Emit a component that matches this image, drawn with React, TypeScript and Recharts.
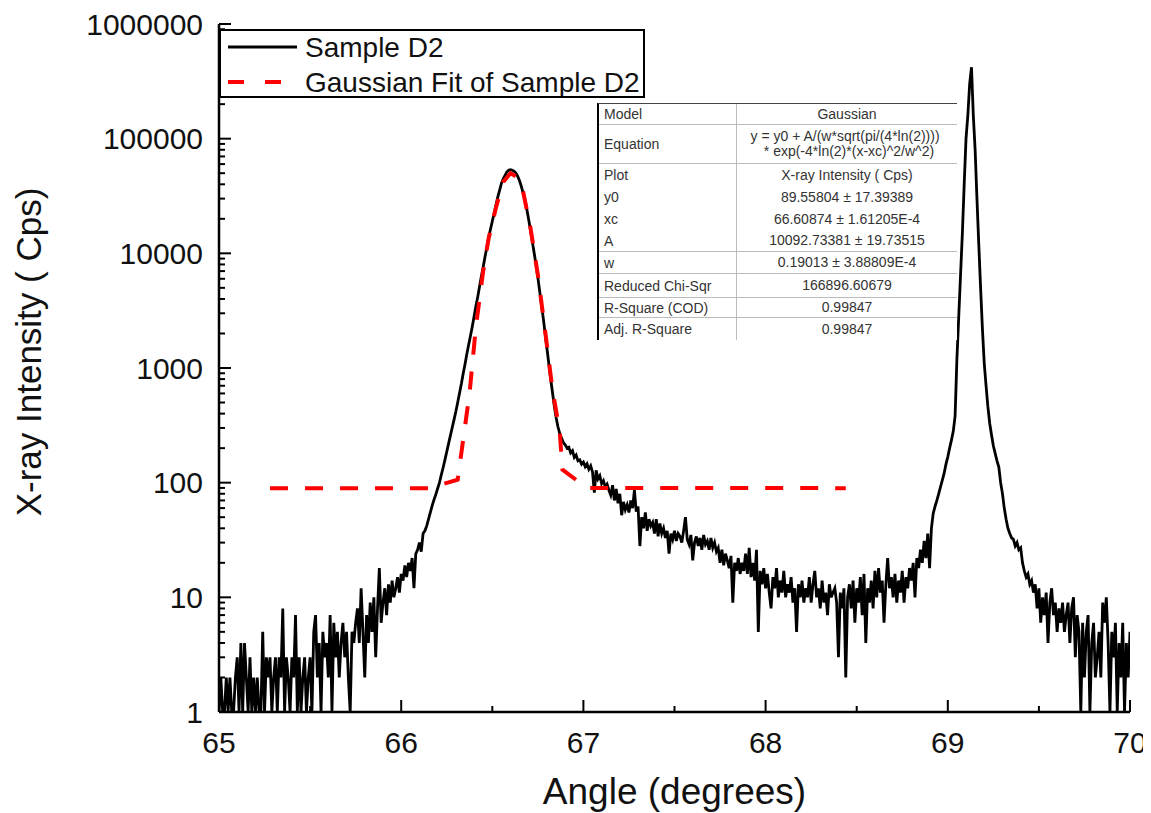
import React from "react";
import {
  LineChart,
  Line,
  XAxis,
  YAxis,
  Legend,
} from "recharts";

// measured sample: constant 0.01 deg step starting at 65 deg
const angleStart = 65;
const angleStep = 0.01;
const intensity = [
  1, 2, 1, 1, 2, 1, 2, 1, 1, 2,
  3, 1, 4, 1, 4, 2, 1, 3, 1, 2,
  1, 2, 1, 1, 5, 1, 3, 2, 3, 1,
  2, 3, 1, 3, 2, 8, 1, 3, 2, 1,
  3, 2, 7, 1, 3, 1, 2, 3, 1, 2,
  3, 1, 5, 7, 2, 4, 1, 5, 3, 4,
  2, 7, 1, 6, 3, 5, 2, 4, 6, 3,
  5, 2, 1, 5, 4, 6, 8, 4, 12, 5,
  2, 7, 4, 9, 5, 10, 3, 8, 18, 6,
  9, 12, 7, 13, 9, 14, 10, 12, 15, 11,
  16, 14, 19, 15, 20, 17, 22, 12, 24, 26,
  30, 25, 36, 38, 42, 48, 55, 63, 71, 79,
  89, 100, 117, 135, 158, 186, 219, 257, 302, 355,
  417, 501, 603, 724, 891, 1072, 1318, 1585, 1905, 2291,
  2818, 3467, 4169, 5129, 6310, 7586, 9333, 11220, 13800, 16220,
  19050, 22390, 26300, 30900, 35480, 40740, 44670, 47860, 51290, 53100,
  53700, 53100, 51900, 50100, 46800, 42660, 38020, 33110, 28840, 23990,
  19500, 15850, 12590, 10000, 7943, 6166, 4677, 3548, 2692, 1995,
  1479, 1096, 813, 617, 468, 372, 309, 269, 245, 224,
  214, 200, 204, 182, 190, 166, 174, 155, 158, 145,
  151, 138, 146, 131, 140, 124, 82, 128, 108, 115,
  98, 104, 92, 97, 86, 78, 95, 70, 88, 66,
  80, 52, 68, 58, 64, 55, 70, 60, 86, 56,
  62, 28, 50, 40, 55, 38, 48, 42, 45, 36,
  48, 34, 44, 36, 40, 33, 38, 24, 36, 32,
  38, 31, 36, 34, 30, 38, 50, 32, 29, 35,
  21, 30, 34, 28, 33, 26, 35, 29, 31, 26,
  33, 27, 30, 25, 27, 20, 26, 19, 24, 21,
  18, 23, 9, 20, 17, 22, 16, 20, 17, 24,
  16, 27, 15, 20, 14, 26, 5, 17, 13, 18,
  12, 16, 11, 8, 15, 12, 18, 10, 14, 11,
  17, 10, 13, 11, 15, 9, 12, 5, 13, 10,
  14, 9, 12, 10, 15, 9, 13, 17, 10, 12,
  8, 14, 9, 11, 7, 13, 10, 11, 12, 9,
  3, 11, 8, 12, 2, 10, 13, 8, 14, 6,
  12, 9, 15, 7, 16, 4, 12, 9, 14, 8,
  17, 10, 18, 11, 14, 6, 13, 22, 12, 15,
  10, 16, 9, 14, 11, 17, 9, 15, 12, 18,
  14, 20, 10, 22, 18, 26, 20, 31, 22, 36,
  18, 40, 54, 62, 70, 80, 92, 105, 121, 145,
  168, 200, 235, 280, 380, 1200, 2800, 6500, 15000, 40000,
  100000, 160000, 300000, 420000, 160000, 80000, 30000, 12000, 5000, 2200,
  1100, 700, 460, 330, 260, 210, 180, 155, 137, 100,
  80, 60, 48, 40, 36, 33, 32, 28, 30, 26,
  27, 20, 17, 15, 16, 13, 14, 11, 13, 8,
  12, 6, 10, 7, 11, 4, 9, 12, 7, 9,
  5, 8, 6, 9, 5, 7, 9, 4, 8, 10,
  3, 7, 5, 1, 6, 2, 5, 7, 1, 4,
  6, 2, 3, 5, 2, 9, 6, 10, 4, 1,
  5, 3, 6, 1, 4, 2, 6, 1, 4, 2,
  5,
];

// Gaussian fit curve as drawn
const fitAngle = [65.28, 66.15, 66.31, 66.375, 66.41, 66.45, 66.48, 66.52, 66.56, 66.6, 66.63, 66.67, 66.71, 66.75, 66.79, 66.83, 66.87, 66.885, 67.02, 68.44];
const fitValue = [89.6, 89.6, 106, 600, 2290, 7000, 13500, 25000, 42000, 50000, 47000, 34000, 16500, 6500, 2100, 650, 280, 130, 89.8, 89.6];

const xTicks = [65, 65.5, 66, 66.5, 67, 67.5, 68, 68.5, 69, 69.5, 70];
const yDecades = [1, 10, 100, 1000, 10000, 100000];
const yMultipliers = [1, 2, 3, 4, 5, 6, 7, 8, 9];
const yTop = 1000000;

const fitRows = [
  ["Model", "Gaussian"],
  ["Equation", "y = y0 + A/(w*sqrt(pi/(4*ln(2)))) \n * exp(-4*ln(2)*(x-xc)^2/w^2)"],
  ["Plot", "X-ray Intensity ( Cps)"],
  ["y0", "89.55804 ± 17.39389"],
  ["xc", "66.60874 ± 1.61205E-4"],
  ["A", "10092.73381 ± 19.73515"],
  ["w", "0.19013 ± 3.88809E-4"],
  ["Reduced Chi-Sqr", "166896.60679"],
  ["R-Square (COD)", "0.99847"],
  ["Adj. R-Square", "0.99847"],
];

const sampleData = intensity.map((v, i) => ({
  angle: +(angleStart + i * angleStep).toFixed(2),
  intensity: v,
}));
const fitData = fitAngle.map((a, i) => ({ angle: a, fit: fitValue[i] }));
const yTicks = [...yDecades.flatMap((d) => yMultipliers.map((m) => d * m)), yTop];

const FONT = '"Liberation Sans", Arial, sans-serif';
const isDecade = (v: number) => Math.abs(Math.log10(v) - Math.round(Math.log10(v))) < 1e-9;

const LeftTick = ({ x, y, payload }: any) => {
  const major = isDecade(payload.value);
  return (
    <g>
      <line x1={x} x2={x + (major ? 12 : 6)} y1={y} y2={y} stroke="#000" strokeWidth={2} />
      {major && (
        <text x={x - 16} y={y} textAnchor="end" dominantBaseline="central" fontSize={30} fontFamily={FONT} fill="#111">
          {String(payload.value)}
        </text>
      )}
    </g>
  );
};

const RightTick = ({ x, y, payload }: any) => {
  const major = isDecade(payload.value);
  return <line x1={x} x2={x - (major ? 12 : 6)} y1={y} y2={y} stroke="#000" strokeWidth={2} />;
};

const BottomTick = ({ x, y, payload }: any) => {
  const major = Number.isInteger(payload.value);
  return (
    <g>
      <line x1={x} x2={x} y1={y} y2={y - (major ? 12 : 6)} stroke="#000" strokeWidth={2} />
      {major && (
        <text x={x} y={y + 30} textAnchor="middle" dominantBaseline="central" fontSize={30} fontFamily={FONT} fill="#111">
          {payload.value}
        </text>
      )}
    </g>
  );
};

const TopTick = ({ x, y, payload }: any) => {
  const major = Number.isInteger(payload.value);
  return <line x1={x} x2={x} y1={y} y2={y + (major ? 12 : 6)} stroke="#000" strokeWidth={2} />;
};

const xTitle = ({ viewBox }: any) => (
  <text x={viewBox.x + viewBox.width / 2} y={viewBox.y + 92} textAnchor="middle" fontSize={37} fontFamily={FONT} fill="#111">
    Angle (degrees)
  </text>
);

const yTitle = ({ viewBox }: any) => {
  const cx = viewBox.x + 20;
  const cy = viewBox.y + viewBox.height / 2 - 16;
  return (
    <text x={cx} y={cy} transform={`rotate(-90 ${cx} ${cy})`} textAnchor="middle" dominantBaseline="central" fontSize={35} fontFamily={FONT} fill="#111">
      X-ray Intensity ( Cps)
    </text>
  );
};

const renderLegend = () => (
  <div style={{ width: 426, height: 69, border: "2px solid #000", boxSizing: "border-box", background: "#fff" }}>
    <svg width={422} height={65} style={{ display: "block" }}>
      <line x1={7} x2={76} y1={16} y2={16} stroke="#000" strokeWidth={3} />
      <text x={84} y={16} dominantBaseline="central" fontSize={28} fontFamily={FONT} fill="#111">Sample D2</text>
      <line x1={7} x2={62} y1={51} y2={51} stroke="#f00" strokeWidth={4} strokeDasharray="16 21" />
      <text x={84} y={51} dominantBaseline="central" fontSize={28} fontFamily={FONT} fill="#111">Gaussian Fit of Sample D2</text>
    </svg>
  </div>
);

const rowHeights = [21, 39, 22, 22, 22, 22, 22, 24, 20, 22];
const ruledRows = [0, 1, 5, 6, 7, 8];

function FitTable() {
  return (
    <div
      style={{
        position: "absolute",
        left: 589,
        top: 95,
        width: 358,
        background: "#fff",
        borderTop: "1.5px solid #444",
        borderLeft: "2px solid #000",
        fontFamily: FONT,
        fontSize: 14,
        color: "#333",
      }}
    >
      {fitRows.map(([k, v], i) => (
        <div
          key={k}
          style={{
            display: "flex",
            height: rowHeights[i],
            borderBottom: ruledRows.includes(i) ? "1px solid #bbb" : "none",
            boxSizing: "border-box",
          }}
        >
          <div style={{ width: 138, boxSizing: "border-box", paddingLeft: 5, borderRight: "1px solid #bbb", display: "flex", alignItems: "center" }}>{k}</div>
          <div style={{ flex: 1, textAlign: "center", display: "flex", alignItems: "center", justifyContent: "center", whiteSpace: "pre", lineHeight: "15px" }}>
            {v}
          </div>
        </div>
      ))}
    </div>
  );
}

export default function App() {
  return (
    <div style={{ position: "relative", width: 1143, height: 805, background: "#fff" }}>
      <LineChart width={1143} height={805} margin={{ top: 16, right: 21, bottom: 0, left: 0 }}>
        <XAxis
          xAxisId="bottom"
          dataKey="angle"
          type="number"
          domain={[65, 70]}
          ticks={xTicks}
          interval={0}
          allowDataOverflow
          height={101}
          tickSize={0}
          tickMargin={0}
          tick={BottomTick}
          axisLine={{ stroke: "#000", strokeWidth: 2.5 }}
          label={xTitle}
        />
        <XAxis
          xAxisId="top"
          orientation="top"
          dataKey="angle"
          type="number"
          domain={[65, 70]}
          ticks={xTicks}
          interval={0}
          allowDataOverflow
          height={0}
          tickSize={0}
          tickMargin={0}
          tick={TopTick}
          axisLine={{ stroke: "#000", strokeWidth: 2.5 }}
        />
        <YAxis
          yAxisId="left"
          scale="log"
          domain={[1, yTop]}
          ticks={yTicks}
          interval={0}
          allowDataOverflow
          width={211}
          tickSize={0}
          tickMargin={0}
          tick={LeftTick}
          axisLine={{ stroke: "#000", strokeWidth: 2.5 }}
          label={yTitle}
        />
        <YAxis
          yAxisId="right"
          orientation="right"
          scale="log"
          domain={[1, yTop]}
          ticks={yTicks}
          interval={0}
          allowDataOverflow
          width={0}
          tickSize={0}
          tickMargin={0}
          tick={RightTick}
          axisLine={{ stroke: "#000", strokeWidth: 2.5 }}
        />
        <Legend
          layout="vertical"
          align="center"
          verticalAlign="middle"
          wrapperStyle={{ left: 211, top: 21, width: 426, height: 69 }}
          content={renderLegend}
        />
        <Line
          data={sampleData}
          dataKey="intensity"
          name="Sample D2"
          xAxisId="bottom"
          yAxisId="left"
          type="linear"
          dot={false}
          stroke="#000"
          strokeWidth={2.8}
          isAnimationActive={false}
        />
        <Line
          data={fitData}
          dataKey="fit"
          name="Gaussian Fit of Sample D2"
          xAxisId="bottom"
          yAxisId="left"
          type="linear"
          dot={false}
          stroke="#f00"
          strokeWidth={4}
          strokeDasharray="18 17"
          isAnimationActive={false}
        />
      </LineChart>
      <FitTable />
    </div>
  );
}
